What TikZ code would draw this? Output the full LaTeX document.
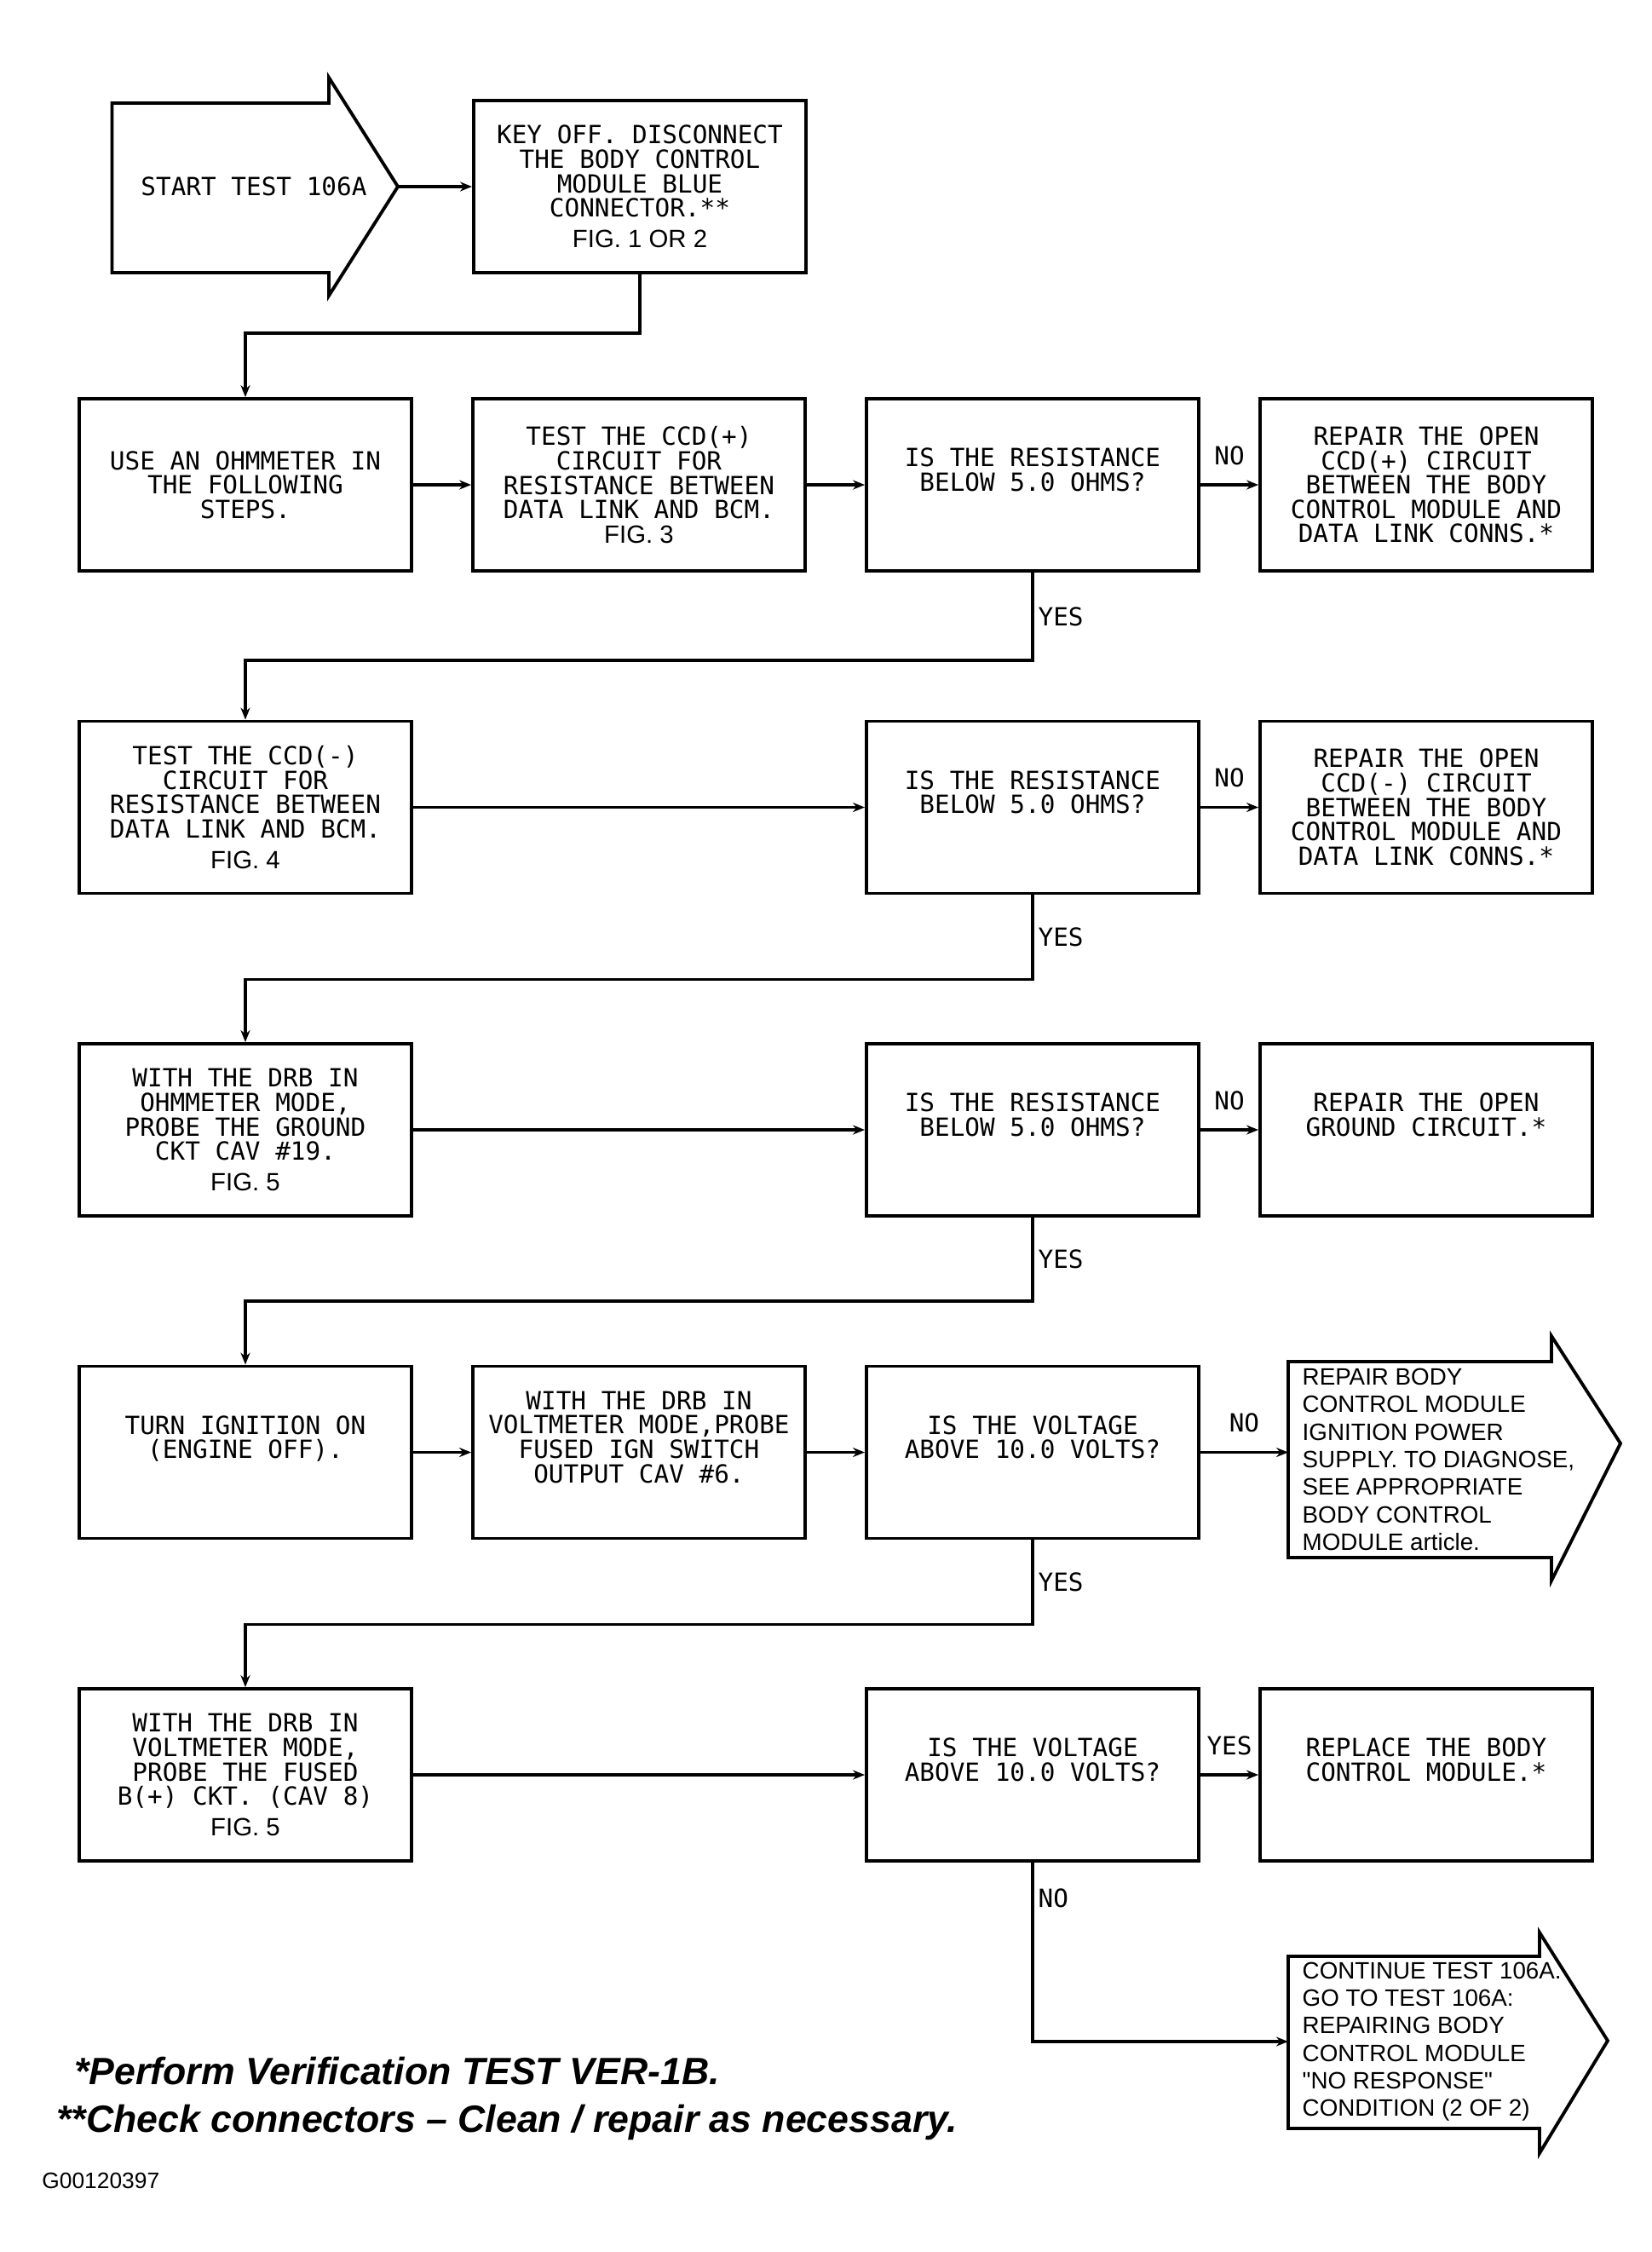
\documentclass[tikz,border=0pt]{standalone}
\usepackage{fontspec}
\setmainfont{Liberation Sans}
\setsansfont{Liberation Sans}
\setmonofont{DejaVu Sans Mono}
\usepackage{tikz}
\usetikzlibrary{shapes,arrows.meta,positioning}

\begin{document}
\begin{tikzpicture}[node distance=4.62cm, auto, >={Stealth[length=1.4mm,width=1.1mm]},
    box/.style={rectangle, draw, line width=1.1pt, minimum width=3.9cm, minimum height=2.02cm, inner sep=0.05cm, align=center, font=\ttfamily\fontsize{8.35}{8.15}\selectfont},
    raised/.style={text depth=0.36cm},
    tag/.style={inner sep=0.05cm, font=\ttfamily\fontsize{8.35}{8.15}\selectfont},
    exit/.style={anchor=west, inner xsep=0.16cm, inner ysep=0cm, align=left, font=\sffamily\fontsize{7.9}{9.2}\selectfont},
    outline/.style={draw, line width=1.1pt, line join=miter},
    flow/.style={draw, line width=0.9pt},
    note/.style={anchor=base west, font=\sffamily\bfseries\itshape\fontsize{12.7}{15}\selectfont}]

    \path [use as bounding box, fill=white] (0,0) rectangle (19.39,-26.43);

    % start of the test
    \draw [outline] (1.315,-1.21) -- (3.86,-1.21) -- (3.86,-0.91) -- (4.67,-2.19) -- (3.86,-3.47) -- (3.86,-3.20) -- (1.315,-3.20) -- cycle;
    \node [tag] (start) at (2.98,-2.19) {START TEST 106A};
    \coordinate (starttip) at (4.67,-2.19);
    \node [box] (keyoff) at (7.51,-2.19) {KEY OFF. DISCONNECT\\THE BODY CONTROL\\MODULE BLUE\\CONNECTOR.**\\[2pt]{\sffamily FIG. 1 OR 2}};

    % CCD(+) circuit
    \node [box] (ohm) at (2.88,-5.69) {USE AN OHMMETER IN\\THE FOLLOWING\\STEPS.};
    \node [box, right of=ohm] (ccdp) {TEST THE CCD(+)\\CIRCUIT FOR\\RESISTANCE BETWEEN\\DATA LINK AND BCM.\\{\sffamily FIG. 3}};
    \node [box, raised, right of=ccdp] (ask2) {IS THE RESISTANCE\\BELOW 5.0 OHMS?};
    \node [box, right of=ask2] (fix2) {REPAIR THE OPEN\\CCD(+) CIRCUIT\\BETWEEN THE BODY\\CONTROL MODULE AND\\DATA LINK CONNS.*};

    % CCD(-) circuit
    \node [box, node distance=3.785cm, below of=ohm] (ccdm) {TEST THE CCD(-)\\CIRCUIT FOR\\RESISTANCE BETWEEN\\DATA LINK AND BCM.\\[2pt]{\sffamily FIG. 4}};
    \node [box, raised, right of=ccdm, xshift=4.62cm] (ask3) {IS THE RESISTANCE\\BELOW 5.0 OHMS?};
    \node [box, right of=ask3] (fix3) {REPAIR THE OPEN\\CCD(-) CIRCUIT\\BETWEEN THE BODY\\CONTROL MODULE AND\\DATA LINK CONNS.*};

    % ground circuit
    \node [box, node distance=3.785cm, below of=ccdm] (drbohm) {WITH THE DRB IN\\OHMMETER MODE,\\PROBE THE GROUND\\CKT CAV \#19.\\[2pt]{\sffamily FIG. 5}};
    \node [box, raised, right of=drbohm, xshift=4.62cm] (ask4) {IS THE RESISTANCE\\BELOW 5.0 OHMS?};
    \node [box, raised, right of=ask4] (fixgnd) {REPAIR THE OPEN\\GROUND CIRCUIT.*};

    % ignition supply
    \node [box, raised, node distance=3.785cm, below of=drbohm] (ign) {TURN IGNITION ON\\(ENGINE OFF).};
    \node [box, raised, right of=ign] (drbvolt) {WITH THE DRB IN\\VOLTMETER MODE,PROBE\\FUSED IGN SWITCH\\OUTPUT CAV \#6.};
    \node [box, raised, right of=drbvolt] (ask5) {IS THE VOLTAGE\\ABOVE 10.0 VOLTS?};
    \draw [outline] (15.12,-15.98) -- (18.21,-15.98) -- (18.21,-15.68) -- (19.02,-16.94) -- (18.21,-18.55) -- (18.21,-18.28) -- (15.12,-18.28) -- cycle;
    \node [exit] (fixign) at (15.12,-17.13) {REPAIR BODY\\CONTROL MODULE\\IGNITION POWER\\SUPPLY. TO DIAGNOSE,\\SEE APPROPRIATE\\BODY CONTROL\\MODULE article.};

    % fused B(+) circuit
    \node [box, node distance=3.785cm, below of=ign] (drbb) {WITH THE DRB IN\\VOLTMETER MODE,\\PROBE THE FUSED\\B(+) CKT. (CAV 8)\\[2pt]{\sffamily FIG. 5}};
    \node [box, raised, right of=drbb, xshift=4.62cm] (ask6) {IS THE VOLTAGE\\ABOVE 10.0 VOLTS?};
    \node [box, raised, right of=ask6] (replace) {REPLACE THE BODY\\CONTROL MODULE.*};
    \draw [outline] (15.12,-22.96) -- (18.07,-22.96) -- (18.07,-22.68) -- (18.87,-23.95) -- (18.07,-25.27) -- (18.07,-24.98) -- (15.12,-24.98) -- cycle;
    \node [exit] (cont) at (15.12,-23.96) {CONTINUE TEST 106A.\\GO TO TEST 106A:\\REPAIRING BODY\\CONTROL MODULE\\\textquotedbl NO RESPONSE\textquotedbl\\CONDITION (2 OF 2)};

    % notes
    \node [note] (note1) at (0.75,-24.46) {*Perform Verification TEST VER-1B.};
    \node [note] (note2) at (0.54,-25.02) {**Check connectors -- Clean / repair as necessary.};
    \node [anchor=base west, font=\sffamily\fontsize{7.5}{9}\selectfont] (figcode) at (0.37,-25.68) {G00120397};

    \draw [flow, ->] (starttip) -- (keyoff);
    \draw [flow, ->] (keyoff.south) -- ++(0,-0.69) -| (ohm.north);
    \draw [flow, ->] (ohm) -- (ccdp);
    \draw [flow, ->] (ccdp) -- (ask2);
    \draw [flow, ->] (ask2) -- node [tag, above=0.17cm] {NO} (fix2);
    \draw [flow, ->] (ask2.south) -- node [tag, right] {YES} ++(0,-1.03) -| (ccdm.north);
    \draw [flow, ->] (ccdm) -- (ask3);
    \draw [flow, ->] (ask3) -- node [tag, above=0.17cm] {NO} (fix3);
    \draw [flow, ->] (ask3.south) -- node [tag, right] {YES} ++(0,-0.99) -| (drbohm.north);
    \draw [flow, ->] (drbohm) -- (ask4);
    \draw [flow, ->] (ask4) -- node [tag, above=0.17cm] {NO} (fixgnd);
    \draw [flow, ->] (ask4.south) -- node [tag, right] {YES} ++(0,-0.98) -| (ign.north);
    \draw [flow, ->] (ign) -- (drbvolt);
    \draw [flow, ->] (drbvolt) -- (ask5);
    \draw [flow, ->] (ask5) -- node [tag, above=0.17cm] {NO} (ask5 -| fixign.west);
    \draw [flow, ->] (ask5.south) -- node [tag, right] {YES} ++(0,-0.99) -| (drbb.north);
    \draw [flow, ->] (drbb) -- (ask6);
    \draw [flow, ->] (ask6) -- node [tag, above=0.17cm] {YES} (replace);
    \draw [flow, ->] (ask6) |- node [tag, right, pos=0.1] {NO} (cont.west);
\end{tikzpicture}
\end{document}
